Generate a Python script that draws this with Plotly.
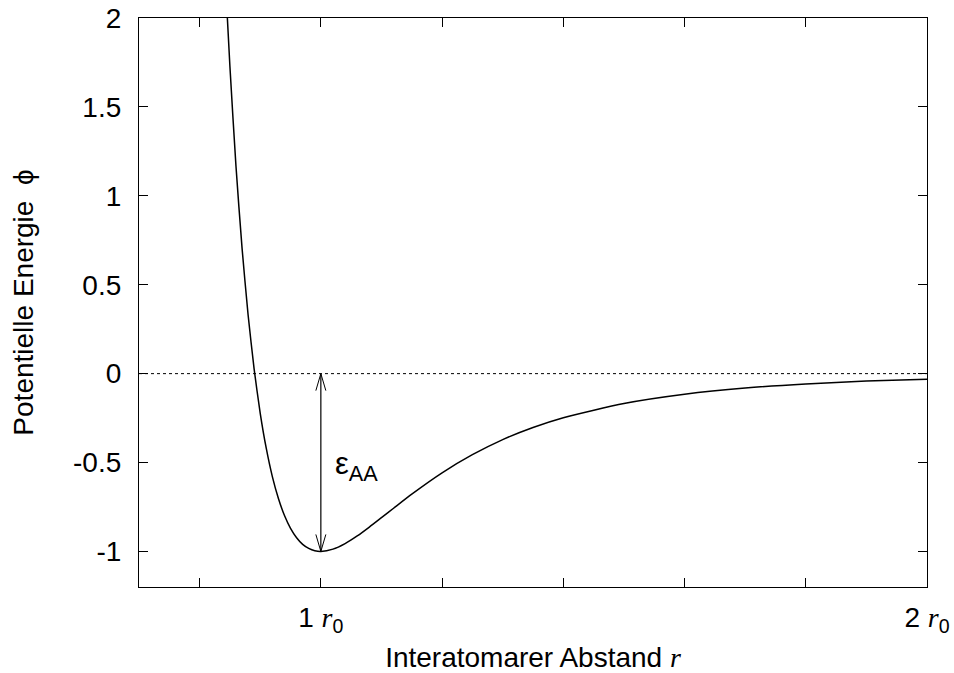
import plotly.graph_objects as go

# Interatomic distance r (in units of r0) and potential energy phi
r_vals = [0.845, 0.85, 0.86, 0.87, 0.88, 0.89, 0.90, 0.91, 0.92, 0.93, 0.94, 0.95,
          0.96, 0.97, 0.98, 0.99, 1.00, 1.02, 1.04, 1.06, 1.08, 1.10, 1.12, 1.15,
          1.20, 1.25, 1.30, 1.35, 1.40, 1.50, 1.60, 1.70, 1.80, 1.90, 2.00]
phi_vals = [2.05, 1.727, 1.166, 0.706, 0.330, 0.024, -0.223, -0.421, -0.579, -0.702,
            -0.798, -0.870, -0.923, -0.960, -0.983, -0.996, -1.000, -0.987, -0.956,
            -0.913, -0.863, -0.810, -0.757, -0.678, -0.558, -0.456, -0.371, -0.303,
            -0.248, -0.168, -0.116, -0.081, -0.058, -0.042, -0.031]

x_tickvals = [1.0, 2.0]
x_ticktext = ["1 <span style='font-family:Liberation Serif'><i>r</i></span><sub>0</sub>",
              "2 <span style='font-family:Liberation Serif'><i>r</i></span><sub>0</sub>"]
x_minor_tickvals = [0.8, 1.2, 1.4, 1.6, 1.8]
y_tickvals = [-1, -0.5, 0, 0.5, 1, 1.5, 2]
y_ticktext = ["-1", "-0.5", "0", "0.5", "1", "1.5", "2"]

r_min = 1.0      # position of the minimum (r0)
eps_aa = 1.0     # well depth

FONT = "Liberation Sans, Arial, sans-serif"
FS = 28

fig = go.Figure()

# zero line (dotted)
fig.add_trace(go.Scatter(x=[0.7, 2.0], y=[0, 0], mode="lines",
                         line=dict(color="black", width=1, dash="dot"),
                         hoverinfo="skip", showlegend=False))

# potential curve
fig.add_trace(go.Scatter(x=r_vals, y=phi_vals, mode="lines",
                         line=dict(color="black", width=1.5, shape="spline", smoothing=0.6),
                         showlegend=False))

# double arrow for epsilon
fig.add_trace(go.Scatter(x=[r_min, r_min], y=[0, -eps_aa], mode="lines",
                         line=dict(color="black", width=1.2),
                         hoverinfo="skip", showlegend=False))

# open arrowheads via pixel-sized shapes anchored at the ends
fig.add_shape(type="path", xref="x", yref="y", xsizemode="pixel", ysizemode="pixel",
              xanchor=r_min, yanchor=0, path="M -5,-17 L 0,0 L 5,-17",
              line=dict(color="black", width=1))
fig.add_shape(type="path", xref="x", yref="y", xsizemode="pixel", ysizemode="pixel",
              xanchor=r_min, yanchor=-eps_aa, path="M -5,17 L 0,0 L 5,17",
              line=dict(color="black", width=1))

fig.add_annotation(x=1.02, y=-0.52, xref="x", yref="y", xanchor="left", yanchor="middle",
                   text="ε<sub>AA</sub>", showarrow=False,
                   font=dict(family=FONT, size=31, color="black"))

fig.update_xaxes(range=[0.7, 2.0], tickvals=x_tickvals, ticktext=x_ticktext,
                 ticks="inside", ticklen=9, tickwidth=1.2, tickcolor="black",
                 minor=dict(tickvals=x_minor_tickvals, ticks="inside", ticklen=9,
                            tickwidth=1.2, tickcolor="black", showgrid=False),
                 showline=True, linecolor="black", linewidth=1.2, mirror="ticks",
                 showgrid=False, zeroline=False, ticklabelstandoff=5, automargin=False,
                 tickfont=dict(family=FONT, size=FS, color="black"),
                 title=dict(text="Interatomarer Abstand <span style='font-family:Liberation Serif'><i>r</i></span>",
                            font=dict(family=FONT, size=FS, color="black"), standoff=19))
fig.update_yaxes(range=[-1.2, 2.0], tickvals=y_tickvals, ticktext=y_ticktext,
                 ticks="inside", ticklen=9, tickwidth=1.2, tickcolor="black",
                 showline=True, linecolor="black", linewidth=1.2, mirror="ticks",
                 showgrid=False, zeroline=False, ticklabelstandoff=11, automargin=False,
                 tickfont=dict(family=FONT, size=FS, color="black"),
                 title=dict(text="Potentielle Energie  ϕ",
                            font=dict(family=FONT, size=FS, color="black"), standoff=31))

fig.update_layout(width=954, height=673, plot_bgcolor="white", paper_bgcolor="white",
                  margin=dict(l=139, r=27, t=18, b=86), showlegend=False)

fig.write_html("out.html")
